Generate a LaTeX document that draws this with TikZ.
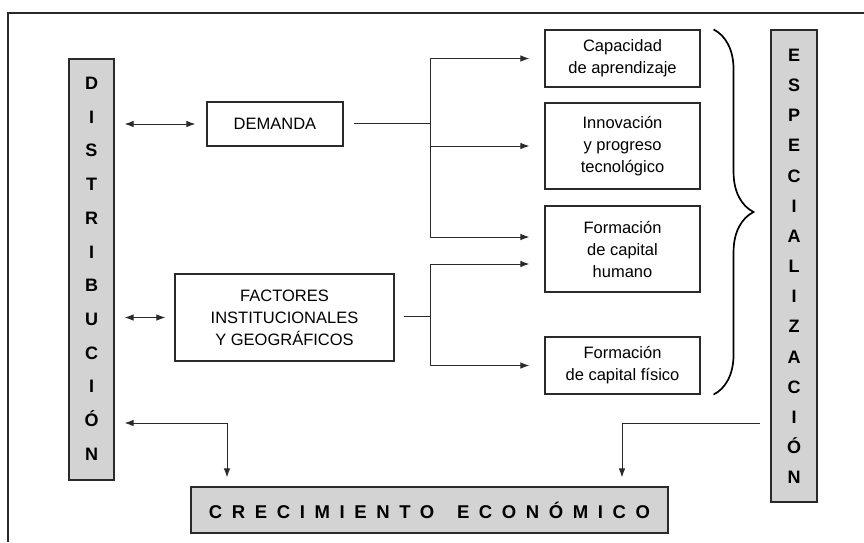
\documentclass[tikz,border=0pt]{standalone}
\usepackage{fontspec}
\setmainfont{Liberation Sans}
\newfontfamily\spacedfont[LetterSpace=52]{Liberation Sans}
\usetikzlibrary{arrows.meta,decorations.pathreplacing}
\definecolor{boxgray}{HTML}{D3D3D3}
\definecolor{linegray}{HTML}{2A2A2A}
\tikzset{
  box/.style={draw=linegray, line width=1.1pt, align=center, inner sep=0pt,
    font=\fontsize{16.5}{22}\selectfont},
  bar/.style={draw=linegray, line width=1.1pt, fill=boxgray, inner sep=0pt},
  vletter/.style={font=\fontsize{18}{18}\selectfont\bfseries, text height=13pt, text depth=0pt, inner sep=0pt},
  conn/.style={draw=linegray, line width=1pt},
  >={Latex[length=9pt,width=6.5pt]}
}
\begin{document}
\begin{tikzpicture}[x=1pt,y=-1pt]
\useasboundingbox (0,0) rectangle (864,542);
\draw [line width=1.1pt, linegray] (8,542) -- (8,13) -- (864,13);

% side bars
\node (dist) at (91.5,269.5) [bar, minimum width=45pt, minimum height=421pt]{};
\foreach \l [count=\i] in {D,I,S,T,R,I,B,U,C,I,Ó,N}
  \node (dist-\i) at (91.5,{83+(\i-1)*33.7}) [vletter]{\l};

\node (esp) at (794,266) [bar, minimum width=46pt, minimum height=472pt]{};
\foreach \l [count=\i] in {E,S,P,E,C,I,A,L,I,Z,A,C,I,Ó,N}
  \node (esp-\i) at (794,{55+(\i-1)*30.15}) [vletter]{\l};

\node (crec) at (429.5,510) [bar, minimum width=477pt, minimum height=46pt,
  font=\fontsize{18.5}{18.5}\selectfont]{\spacedfont\bfseries CRECIMIENTO\hspace{8pt} ECONÓMICO};

% left boxes
\node (dem) at (275,124) [box, minimum width=136pt, minimum height=44pt]{DEMANDA};
\node (fac) at (284.5,317.5) [box, minimum width=219pt, minimum height=87pt]{FACTORES\\INSTITUCIONALES\\Y GEOGRÁFICOS};

% right boxes
\node (cap) at (622.5,58.5) [box, minimum width=155pt, minimum height=57pt]{Capacidad\\de aprendizaje};
\node (inn) at (622.5,146) [box, minimum width=155pt, minimum height=86pt]{Innovación\\y progreso\\tecnológico};
\node (hum) at (622.5,249) [box, minimum width=155pt, minimum height=86pt]{Formación\\de capital\\humano};
\node (fis) at (622.5,365.5) [box, minimum width=155pt, minimum height=57pt]{Formación\\de capital físico};

\draw [decorate, decoration={brace, amplitude=40pt}, line width=1.7pt]
  ([xshift=13pt]cap.north east) -- ([xshift=13pt]fis.south east);

% DEMANDA branch
\coordinate (j1) at (430,123);
\draw [conn] ([xshift=10pt]dem.east |- j1) -- (j1);
\draw [conn] (j1 |- cap) -- (j1 |- 0,237);
\draw [conn,->] (j1 |- cap) -- ([xshift=-15pt]cap.west);
\draw [conn,->] (j1 |- inn) -- ([xshift=-15pt]inn.west);
\draw [conn,->] (j1 |- 0,237) -- ([xshift=-15pt]hum.west |- 0,237);

% FACTORES branch
\coordinate (j2) at (430,316);
\draw [conn] ([xshift=9pt]fac.east |- j2) -- (j2);
\draw [conn] (j2 |- 0,264) -- (j2 |- fis);
\draw [conn,->] (j2 |- 0,264) -- ([xshift=-15pt]hum.west |- 0,264);
\draw [conn,->] (j2 |- fis) -- ([xshift=-15pt]fis.west);

% DISTRIBUCION links
\draw [conn,<->] ([xshift=10pt]dist.east |- dem) -- ([xshift=-11pt]dem.west);
\draw [conn,<->] ([xshift=10pt]dist.east |- fac) -- ([xshift=-9pt]fac.west);

% to CRECIMIENTO
\coordinate (c1) at (227,423);
\coordinate (c2) at (622,423);
\draw [conn,<->] ([xshift=10pt]dist.east |- c1) -- (c1) -- ([yshift=9pt]crec.north -| c1);
\draw [conn,->] ([xshift=-10pt]esp.west |- c2) -- (c2) -- ([yshift=9pt]crec.north -| c2);

\end{tikzpicture}
\end{document}
